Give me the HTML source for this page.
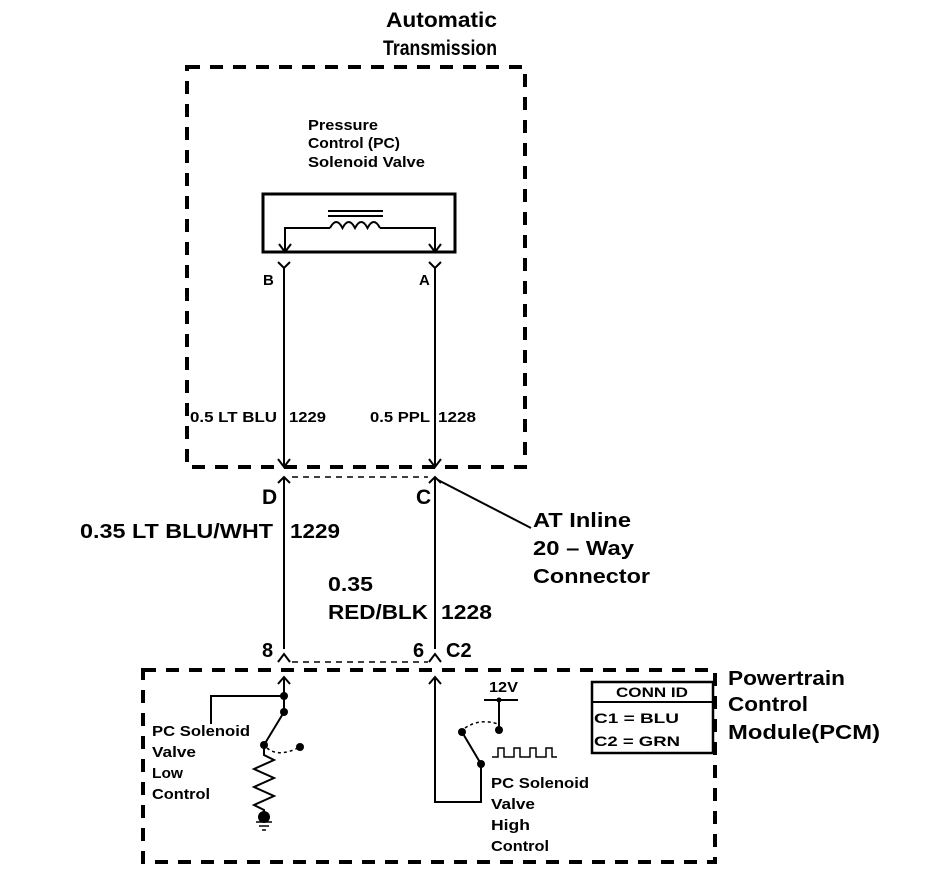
<!DOCTYPE html>
<html><head><meta charset="utf-8"><style>
html,body{margin:0;padding:0;background:#fff;}
svg{display:block;}
text{font-family:"Liberation Sans",sans-serif;fill:#000;font-weight:bold;}
</style></head><body>
<svg width="944" height="876" viewBox="0 0 944 876" xmlns="http://www.w3.org/2000/svg">
<g fill="none" stroke="#000">
<rect x="187" y="67" width="338" height="400" stroke-width="4" stroke-dasharray="13,10"/>
<rect x="143" y="670" width="572" height="192" stroke-width="4" stroke-dasharray="13,10"/>
<rect x="263" y="194" width="192" height="58" stroke-width="3"/>
<path d="M285 252 V228 H330 M380 228 H435 V252" stroke-width="2"/>
<path d="M330 228 q6.25 -12 12.5 0 q6.25 -12 12.5 0 q6.25 -12 12.5 0 q6.25 -12 12.5 0" stroke-width="2"/>
<path d="M328 211 H383 M328 216 H383" stroke-width="2"/>
<path d="M279 244 L285 252 L291 244 M429 244 L435 252 L441 244" stroke-width="2"/>
<path d="M278 262 L284 268 L290 262 M429 262 L435 268 L441 262" stroke-width="2"/>
<path d="M284 268 V467 M435 268 V467" stroke-width="2"/>
<path d="M278 459 L284 467 L290 459 M429 459 L435 467 L441 459" stroke-width="2"/>
<path d="M278 483 L284 477 L290 483 M429 483 L435 477 L441 483" stroke-width="2"/>
<path d="M292 477 H428" stroke-width="1.5" stroke-dasharray="6,5"/>
<path d="M284 477 V649 M435 477 V649" stroke-width="2"/>
<path d="M438 480 L531 528" stroke-width="2"/>
<path d="M278 662 L284 654 L290 662 M429 662 L435 654 L441 662" stroke-width="2"/>
<path d="M292 662 H428" stroke-width="1.5" stroke-dasharray="6,5"/>
<path d="M278 684 L284 677 L290 684 M429 684 L435 677 L441 684" stroke-width="2"/>
<path d="M284 677 V712 M211 724 V696 H284" stroke-width="2"/>
<path d="M284 712 L264 745 V755 l10 5 l-20 9 l20 9 l-20 9 l20 9 l-20 9 l10 5 V815" stroke-width="2"/>
<path d="M267 748 q12 10 33 -1" stroke-width="1.5" stroke-dasharray="3,3"/>
<path d="M256 822 H272 M259 826 H269 M262 830 H266" stroke-width="1.5"/>
<path d="M435 677 V802 H481 V764 L462 732" stroke-width="2"/>
<path d="M465 728 q15 -10 33 -4" stroke-width="1.5" stroke-dasharray="3,3"/>
<path d="M499 730 V700 M484 700 H518" stroke-width="2"/>
<path d="M492 757 H498 V748 H504 V757 H514 V748 H520 V757 H530 V748 H536 V757 H546 V748 H552 V757 H557" stroke-width="1.5"/>
<rect x="592" y="682" width="121" height="71" stroke-width="2.5"/>
<path d="M592 702 H713" stroke-width="2"/>
</g>
<g fill="#000">
<circle cx="284" cy="696" r="4"/><circle cx="284" cy="712" r="4"/><circle cx="264" cy="745" r="4"/><circle cx="300" cy="747" r="4"/>
<circle cx="264" cy="817" r="6"/>
<circle cx="481" cy="764" r="4"/><circle cx="462" cy="732" r="4"/><circle cx="499" cy="730" r="4"/><circle cx="499" cy="700" r="2.5"/>
</g>
<g lengthAdjust="spacingAndGlyphs">
<text x="386" y="27" font-size="21" textLength="111" lengthAdjust="spacingAndGlyphs">Automatic</text>
<text x="383" y="55" font-size="21" textLength="114" lengthAdjust="spacingAndGlyphs">Transmission</text>
<text x="308" y="130" font-size="15" textLength="70" lengthAdjust="spacingAndGlyphs">Pressure</text>
<text x="308" y="148" font-size="15" textLength="92" lengthAdjust="spacingAndGlyphs">Control (PC)</text>
<text x="308" y="167" font-size="15" textLength="117" lengthAdjust="spacingAndGlyphs">Solenoid Valve</text>
<text x="263" y="285" font-size="15">B</text>
<text x="419" y="285" font-size="15">A</text>
<text x="190" y="422" font-size="15" textLength="87" lengthAdjust="spacingAndGlyphs">0.5 LT BLU</text>
<text x="289" y="422" font-size="15" textLength="37" lengthAdjust="spacingAndGlyphs">1229</text>
<text x="370" y="422" font-size="15" textLength="60" lengthAdjust="spacingAndGlyphs">0.5 PPL</text>
<text x="438" y="422" font-size="15" textLength="38" lengthAdjust="spacingAndGlyphs">1228</text>
<text x="262" y="504" font-size="21">D</text>
<text x="416" y="504" font-size="21">C</text>
<text x="533" y="527" font-size="20" textLength="98" lengthAdjust="spacingAndGlyphs">AT Inline</text>
<text x="533" y="555" font-size="20" textLength="101" lengthAdjust="spacingAndGlyphs">20 – Way</text>
<text x="533" y="583" font-size="20" textLength="117" lengthAdjust="spacingAndGlyphs">Connector</text>
<text x="80" y="538" font-size="20" textLength="193" lengthAdjust="spacingAndGlyphs">0.35 LT BLU/WHT</text>
<text x="290" y="538" font-size="20" textLength="50" lengthAdjust="spacingAndGlyphs">1229</text>
<text x="328" y="591" font-size="20" textLength="45" lengthAdjust="spacingAndGlyphs">0.35</text>
<text x="328" y="619" font-size="20" textLength="100" lengthAdjust="spacingAndGlyphs">RED/BLK</text>
<text x="441" y="619" font-size="20" textLength="51" lengthAdjust="spacingAndGlyphs">1228</text>
<text x="262" y="657" font-size="20">8</text>
<text x="413" y="657" font-size="20">6</text>
<text x="446" y="657" font-size="20">C2</text>
<text x="728" y="685" font-size="20" textLength="117" lengthAdjust="spacingAndGlyphs">Powertrain</text>
<text x="728" y="711" font-size="20" textLength="80" lengthAdjust="spacingAndGlyphs">Control</text>
<text x="728" y="739" font-size="20" textLength="152" lengthAdjust="spacingAndGlyphs">Module(PCM)</text>
<text x="616" y="697" font-size="14" textLength="72" lengthAdjust="spacingAndGlyphs">CONN ID</text>
<text x="594" y="723" font-size="14" textLength="85" lengthAdjust="spacingAndGlyphs">C1 = BLU</text>
<text x="594" y="746" font-size="14" textLength="86" lengthAdjust="spacingAndGlyphs">C2 = GRN</text>
<text x="152" y="736" font-size="15" textLength="98" lengthAdjust="spacingAndGlyphs">PC Solenoid</text>
<text x="152" y="757" font-size="15" textLength="44" lengthAdjust="spacingAndGlyphs">Valve</text>
<text x="152" y="778" font-size="15" textLength="31" lengthAdjust="spacingAndGlyphs">Low</text>
<text x="152" y="799" font-size="15" textLength="58" lengthAdjust="spacingAndGlyphs">Control</text>
<text x="489" y="692" font-size="15" textLength="29" lengthAdjust="spacingAndGlyphs">12V</text>
<text x="491" y="788" font-size="15" textLength="98" lengthAdjust="spacingAndGlyphs">PC Solenoid</text>
<text x="491" y="809" font-size="15" textLength="44" lengthAdjust="spacingAndGlyphs">Valve</text>
<text x="491" y="830" font-size="15" textLength="39" lengthAdjust="spacingAndGlyphs">High</text>
<text x="491" y="851" font-size="15" textLength="58" lengthAdjust="spacingAndGlyphs">Control</text>
</g>
</svg>
</body></html>
